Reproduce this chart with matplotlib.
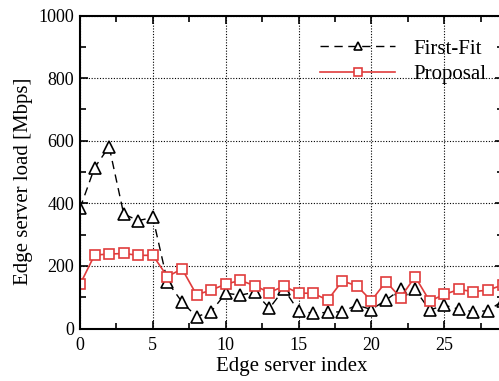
import numpy as np
import matplotlib.pyplot as plt
import matplotlib.transforms as mtransforms
from matplotlib.ticker import MultipleLocator

plt.rcParams['font.family'] = ['Liberation Serif', 'DejaVu Serif']

# edge server index and load [Mbps]
idx = np.arange(30)
first_fit = [384, 514, 581, 366, 345, 355, 150, 85, 38, 54,
             113, 107, 116, 65, 126, 56, 49, 52, 54, 75,
             61, 91, 125, 125, 59, 75, 62, 54, 57, 88]
proposal = [141, 235, 238, 240, 234, 234, 166, 191, 108, 123,
            142, 154, 137, 115, 136, 113, 113, 91, 152, 137,
            89, 150, 99, 166, 88, 109, 125, 118, 123, 139]

fig = plt.figure(figsize=(4.99, 3.81), dpi=100)
# right edge of the axes falls just outside the picture, as in the original
ax = fig.add_axes([80/499, 52.4/381, 422.5/499, 313.1/381])

ax.plot(idx, first_fit, color='black', ls=(0, (6, 4)), lw=1.0,
        marker='^', ms=8, mfc='white', mec='black', mew=1.2, label='First-Fit')
ax.plot(idx, proposal, color='#e03c3c', lw=1.2,
        marker='s', ms=7, mfc='white', mec='#e03c3c', mew=1.2, label='Proposal')

ax.set_xlim(0, 29)
ax.set_ylim(0, 1000)
ax.xaxis.set_major_locator(MultipleLocator(5))
ax.xaxis.set_minor_locator(MultipleLocator(2.5))
ax.yaxis.set_major_locator(MultipleLocator(200))
ax.yaxis.set_minor_locator(MultipleLocator(100))
ax.tick_params(which='both', direction='in', top=True, right=True,
               labelsize=13, width=1.2)
ax.tick_params(which='major', length=6)
ax.tick_params(which='minor', length=4)
ax.tick_params(axis='x', pad=6)
ax.tick_params(axis='y', pad=4)
for s in ax.spines.values():
    s.set_linewidth(1.5)

ax.grid(True, which='major', color='black', ls=(0, (1, 1.5)), lw=0.8)

ax.set_xlabel('Edge server index', fontsize=15, labelpad=2)
ax.set_ylabel('Edge server load [Mbps]', fontsize=15)
ax.yaxis.set_label_coords(-0.112, 0.47)

# the "0" label sits a little left of its tick in the original
fig.canvas.draw()
lab0 = ax.get_xticklabels()[0]
lab0.set_transform(lab0.get_transform() +
                   mtransforms.ScaledTranslation(-10/100, 0, fig.dpi_scale_trans))

ax.legend(loc='upper left', bbox_to_anchor=(320/499, 1 - 39/381),
          bbox_transform=fig.transFigure, frameon=False, borderpad=0,
          borderaxespad=0, fontsize=15, handlelength=3.6, handletextpad=0.87,
          labelspacing=0.3, markerscale=0.8)

fig.savefig('out.png', dpi=100)
